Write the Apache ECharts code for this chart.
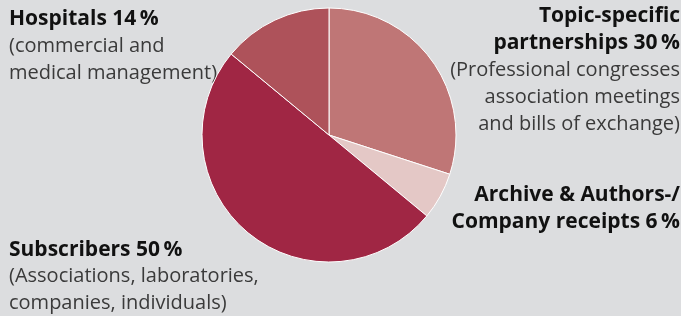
<!DOCTYPE html>
<html>
<head>
<meta charset="utf-8">
<script src="https://cdn.jsdelivr.net/npm/echarts@6/dist/echarts.min.js"></script>
<style>
  html, body { margin: 0; padding: 0; background: #dcdddf; }
  #chart { width: 681px; height: 316px; }
</style>
</head>
<body>
<div id="chart"></div>
<script>
// data
const names = ['Topic-specific partnerships', 'Archive & Authors-/ Company receipts', 'Subscribers', 'Hospitals']
const values = [30, 6, 50, 14]
const colors = ['#bf7676', '#e4c8c6', '#a02644', '#ae525a']

// label lines: bold heading lines + normal description lines
const labelHeads = [
    ['Topic-specific', 'partnerships 30\u2009%'],
    ['Archive & Authors-/', 'Company receipts 6\u2009%'],
    ['Subscribers 50\u2009%'],
    ['Hospitals 14\u2009%']
]
const labelNotes = [
    ['(Professional congresses', 'association meetings', 'and bills of exchange)'],
    [],
    ['(Associations, laboratories,', 'companies, individuals)'],
    ['(commercial and', 'medical management)']
]
// where each label block sits
const labelPos = [
    { x: 680, y: 3, align: 'right', lh: 27 },
    { x: 680, y: 182, align: 'right', lh: 27 },
    { x: 9, y: 237, align: 'left', lh: 26.5 },
    { x: 9, y: 5.5, align: 'left', lh: 27 }
]

const chart = echarts.init(document.getElementById('chart'))

const labelText = (i) => {
    const parts = labelHeads[i].map(t => '{b|' + t + '}')
        .concat(labelNotes[i].map(t => '{n|' + t + '}'))
    return parts.join('\n')
}

const option = {
    backgroundColor: '#dcdddf',
    series: [{
        type: 'pie',
        center: [329, 135],
        radius: 127,
        startAngle: 90,
        clockwise: true,
        label: { show: false },
        labelLine: { show: false },
        emphasis: { disabled: true },
        itemStyle: { borderColor: '#ffffff', borderWidth: 1 },
        data: names.map((n, i) => ({
            name: n,
            value: values[i],
            itemStyle: { color: colors[i] }
        }))
    }],
    graphic: labelPos.map((p, i) => ({
        type: 'text',
        x: p.x,
        y: p.y,
        style: {
            text: labelText(i),
            align: p.align,
            verticalAlign: 'top',
            rich: {
                b: {
                    fontFamily: 'Open Sans',
                    fontWeight: 'bold',
                    fontSize: 21,
                    lineHeight: p.lh,
                    fill: '#111111',
                    align: p.align
                },
                n: {
                    fontFamily: 'Open Sans',
                    fontWeight: 'normal',
                    fontSize: 20,
                    lineHeight: p.lh,
                    fill: '#3a3a3a',
                    align: p.align
                }
            }
        }
    }))
}

chart.setOption(option)
</script>
</body>
</html>
